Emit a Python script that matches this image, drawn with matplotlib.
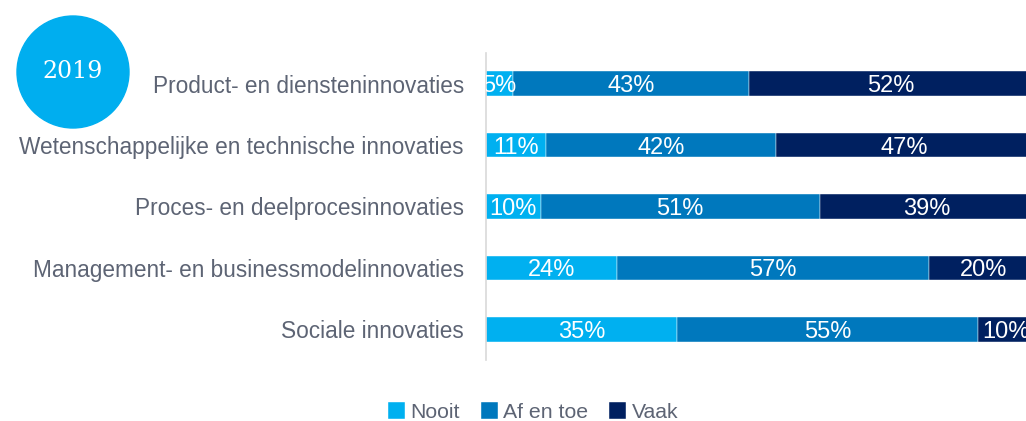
#!/usr/bin/env python3

import matplotlib
matplotlib.use('Agg')
from matplotlib import pyplot as plt
from matplotlib.patches import Ellipse

categories = [
    'Product- en diensteninnovaties',
    'Wetenschappelijke en technische innovaties',
    'Proces- en deelprocesinnovaties',
    'Management- en businessmodelinnovaties',
    'Sociale innovaties',
]
series_names = ['Nooit', 'Af en toe', 'Vaak']
nooit = [5, 11, 10, 24, 35]
af_en_toe = [43, 42, 51, 57, 55]
vaak = [52, 47, 39, 20, 10]
year_label = '2019'

colors = ['#00b0f0', '#0078bd', '#002060']
label_color = '#5d6474'

plt.rcParams['font.family'] = ['Liberation Sans', 'DejaVu Sans']

fig = plt.figure(figsize=(10.26, 4.21), dpi=100)
ax = fig.add_axes([486 / 1026, 61 / 421, 547 / 1026, 307 / 421])

y = list(range(len(categories)))
left = [0] * len(categories)
for name, values, color in zip(series_names, [nooit, af_en_toe, vaak], colors):
    ax.barh(y, values, left=left, height=0.4, color=color,
            edgecolor='white', linewidth=0.3, label=name)
    for yi, l, v in zip(y, left, values):
        ax.text(l + v / 2, yi, '{}%'.format(v), ha='center',
                va='center_baseline', color='white', fontsize=17,
                clip_on=True)
    left = [a + b for a, b in zip(left, values)]

ax.set_xlim(0, 100)
ax.set_ylim(4.5, -0.5)
ax.set_yticks(y)
ax.set_yticklabels(categories, fontsize=16.3, color=label_color)
ax.tick_params(axis='y', length=0, pad=16)
ax.set_xticks([])
for side in ['top', 'right', 'bottom']:
    ax.spines[side].set_visible(False)
ax.spines['left'].set_color('#d9d9d9')
ax.spines['left'].set_linewidth(1.2)

# year badge
circle = Ellipse((73 / 1026, 1 - 72 / 421), 112 / 1026, 112 / 421,
                 transform=fig.transFigure, color='#00aeef', zorder=5)
fig.add_artist(circle)
fig.text(73 / 1026, 1 - 72 / 421, year_label, ha='center', va='center',
         color='white', fontsize=17, family='DejaVu Serif', zorder=6)

handles, labels = ax.get_legend_handles_labels()
leg = fig.legend(handles, labels, loc='center', ncol=3, frameon=False,
                 bbox_to_anchor=(533 / 1026, 9 / 421), fontsize=15.3,
                 handlelength=0.8, handleheight=0.8, handletextpad=0.25,
                 columnspacing=1.0)
for t in leg.get_texts():
    t.set_color(label_color)

fig.savefig('out.png', dpi=100)
